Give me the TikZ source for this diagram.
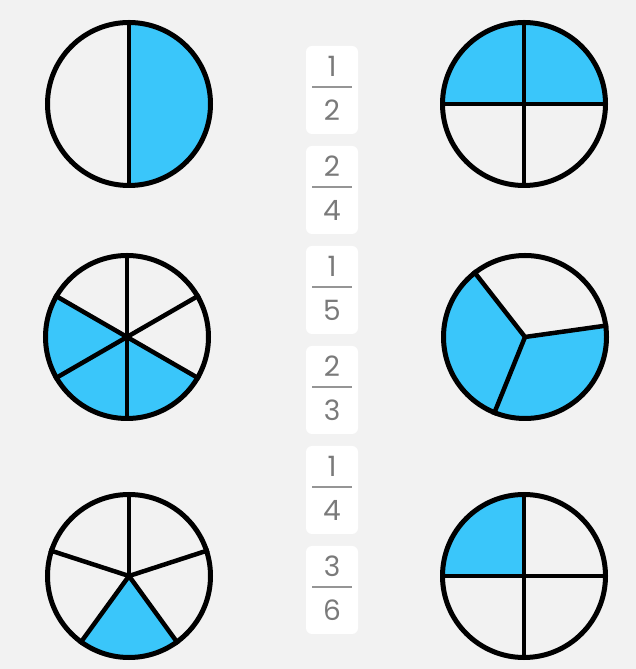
\documentclass[tikz,border=0pt]{standalone}
\usepackage{fontspec}
\setmainfont{Poppins}
\definecolor{bg}{HTML}{F2F2F2}
\definecolor{piefill}{HTML}{3AC6FA}
\definecolor{fracgray}{HTML}{7A7A7A}
\tikzset{
  piecircle/.style={circle, draw=black, line width=5pt, minimum size=163pt, inner sep=0pt},
  spoke/.style={draw=black, line width=4.5pt},
  sector/.style={fill=piefill},
  fracbox/.style={rectangle, rounded corners=6pt, fill=white, minimum width=52pt, minimum height=88pt, inner sep=0pt},
  digit/.style={inner sep=0pt, text=fracgray, font=\fontsize{28}{28}\selectfont},
  fracbar/.style={draw=fracgray!80, line width=1.5pt}
}
\begin{document}
\begin{tikzpicture}[x=1pt,y=1pt]
\fill[bg] (0,0) rectangle (636,669);
\useasboundingbox (0,0) rectangle (636,669);
\def\R{81.5}
% ---------- Top left: 1/2 ----------
\coordinate (p1) at (129,565);
\fill[sector] (p1) -- ++(-90:\R) arc[start angle=-90, end angle=90, radius=\R] -- cycle;
\node[piecircle] (c1) at (p1) {};
\draw[spoke] (c1.90) -- (c1.-90);
% ---------- Top right: 2/4 ----------
\coordinate (p2) at (524,565);
\fill[sector] (p2) -- ++(0:\R) arc[start angle=0, end angle=180, radius=\R] -- cycle;
\node[piecircle] (c2) at (p2) {};
\draw[spoke] (c2.90) -- (c2.-90);
\draw[spoke] (c2.180) -- (c2.0);
% ---------- Middle left: 3/6 ----------
\coordinate (p3) at (127,332);
\fill[sector] (p3) -- ++(150:\R) arc[start angle=150, end angle=330, radius=\R] -- cycle;
\node[piecircle] (c3) at (p3) {};
\draw[spoke] (c3.90) -- (c3.270);
\draw[spoke] (c3.30) -- (c3.210);
\draw[spoke] (c3.150) -- (c3.330);
% ---------- Middle right: 2/3 ----------
\coordinate (p4) at (525,332);
\fill[sector] (p4) -- ++(128:\R) arc[start angle=128, end angle=368, radius=\R] -- cycle;
\node[piecircle] (c4) at (p4) {};
\draw[spoke, line join=round] (c4.8) -- (c4.center) -- (c4.128);
\draw[spoke] (c4.center) -- (c4.248);
% ---------- Bottom left: 1/5 ----------
\coordinate (p5) at (129,93);
\fill[sector] (p5) -- ++(234:\R) arc[start angle=234, end angle=306, radius=\R] -- cycle;
\node[piecircle] (c5) at (p5) {};
\draw[spoke, line join=round] (c5.18) -- (c5.center) -- (c5.162);
\draw[spoke, line join=round] (c5.234) -- (c5.center) -- (c5.306);
\draw[spoke] (c5.center) -- (c5.90);
% ---------- Bottom right: 1/4 ----------
\coordinate (p6) at (524,93);
\fill[sector] (p6) -- ++(90:\R) arc[start angle=90, end angle=180, radius=\R] -- cycle;
\node[piecircle] (c6) at (p6) {};
\draw[spoke] (c6.90) -- (c6.-90);
\draw[spoke] (c6.180) -- (c6.0);
% ---------- Fraction cards ----------
\foreach \i/\n/\d [count=\k from 0] in {a/1/2, b/2/4, c/1/5, d/2/3, e/1/4, f/3/6}{
  \pgfmathsetmacro{\yy}{579-100*\k}
  \node[fracbox] (\i) at (332,\yy) {};
  \coordinate (\i bar) at ([yshift=3pt]\i.center);
  \node[digit] (\i num) at ([yshift=21pt]\i bar) {\n};
  \node[digit] (\i den) at ([yshift=-23pt]\i bar) {\d};
  \draw[fracbar] ([xshift=-20pt]\i bar) -- ([xshift=20pt]\i bar);
}
\end{tikzpicture}
\end{document}
